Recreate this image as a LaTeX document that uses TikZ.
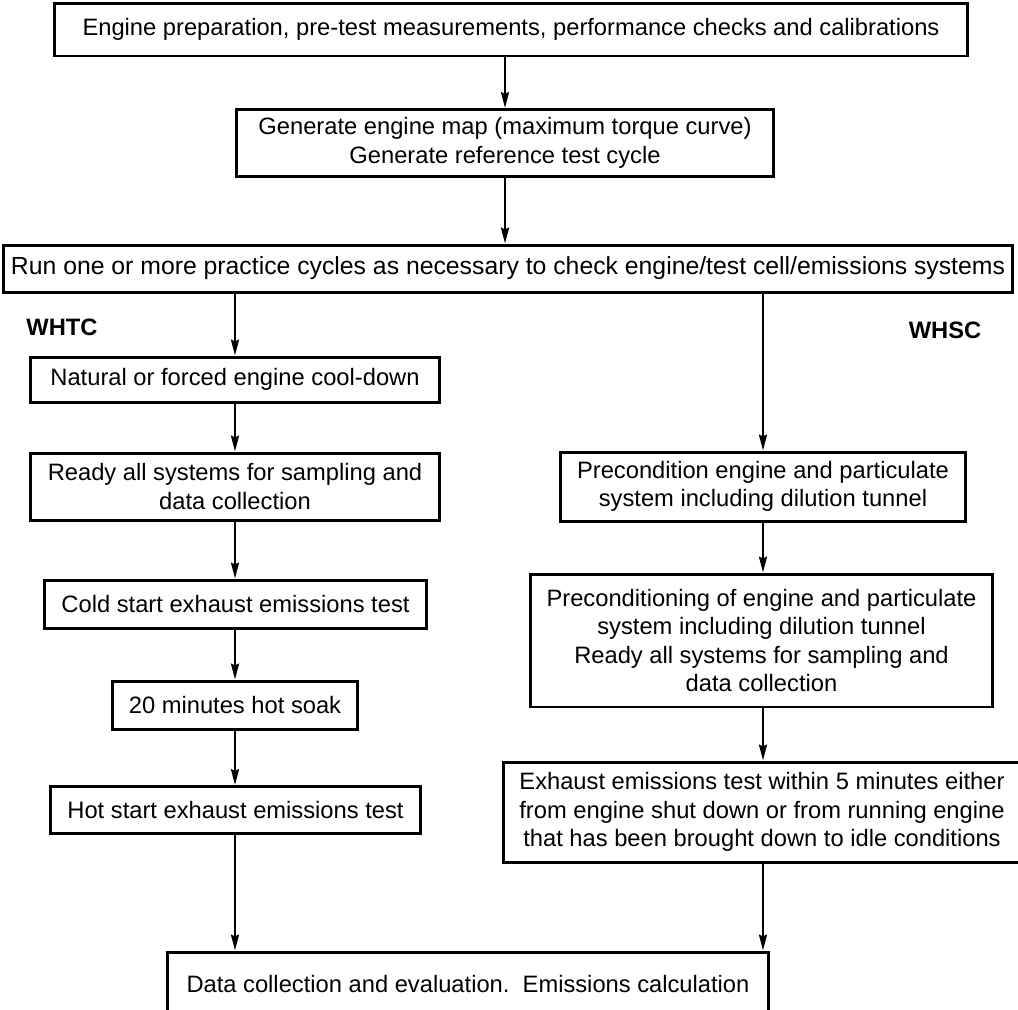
\documentclass[tikz,border=0pt]{standalone}
\usepackage{fontspec}
\setmainfont{Liberation Sans}
\usepackage{tikz}
\usetikzlibrary{arrows.meta,positioning,calc}

\begin{document}
\begin{tikzpicture}[
    x=0.02cm,
    y=-0.02cm,
    font=\fontsize{13.5}{16.2}\selectfont,
    box/.style={draw, line width=1.7pt, align=center, inner sep=2pt},
    arr/.style={line width=1.5pt, -{Stealth[length=9pt,width=4.5pt,inset=1pt]}},
    cyclelbl/.style={font=\fontsize{13.5}{16.2}\selectfont\bfseries}
]
    \clip (0,0) rectangle (1018,1009);

    % Common steps
    \node[box, minimum width=18.26cm, minimum height=1.06cm] (prep) at (511,29.5)
        {Engine preparation, pre-test measurements, performance checks and calibrations};
    \node[box, minimum width=10.74cm, minimum height=1.34cm] (genmap) at (505,143)
        {Generate engine map (maximum torque curve)\\Generate reference test cycle};
    \node[box, minimum width=20.2cm, minimum height=0.94cm, font=\fontsize{14.1}{16.2}\selectfont] (practice) at (508,268.5)
        {Run one or more practice cycles as necessary to check engine/test cell/emissions systems};

    % WHTC
    \node[cyclelbl] (whtc) at (62,327) {WHTC};
    \node[box, minimum width=8.2cm, minimum height=0.9cm] (cooldown) at (235,379.5)
        {Natural or forced engine cool-down};
    \node[box, minimum width=8.2cm, minimum height=1.34cm] (readyL) at (235,486.5)
        {Ready all systems for sampling and\\data collection};
    \node[box, minimum width=7.66cm, minimum height=0.96cm] (coldtest) at (235.5,604)
        {Cold start exhaust emissions test};
    \node[box, minimum width=4.92cm, minimum height=0.96cm] (hotsoak) at (235,705)
        {20 minutes hot soak};
    \node[box, minimum width=7.42cm, minimum height=0.94cm] (hottest) at (235.5,810)
        {Hot start exhaust emissions test};

    % WHSC
    \node[cyclelbl] (whsc) at (945,330) {WHSC};
    \node[box, minimum width=8.12cm, minimum height=1.38cm] (precond) at (763,486.5)
        {Precondition engine and particulate\\system including dilution tunnel};
    \node[box, minimum width=9.26cm, minimum height=2.66cm] (precondready) at (761.5,640.5)
        {Preconditioning of engine and particulate\\system including dilution tunnel\\Ready all systems for sampling and\\data collection};
    \node[box, minimum width=10.36cm, minimum height=2.0cm] (exhtest) at (762,812)
        {Exhaust emissions test within 5 minutes either\\from engine shut down or from running engine\\that has been brought down to idle conditions};

    % Evaluation
    \node[box, minimum width=12.04cm, minimum height=1.28cm] (datacalc) at (468,984)
        {Data collection and evaluation.\ \ Emissions calculation};

    % Arrows
    \draw[arr] (prep.south -| genmap) -- (genmap.north);
    \draw[arr] (genmap.south) -- (practice.north -| genmap);
    \draw[arr] (practice.south -| cooldown) -- (cooldown.north);
    \draw[arr] (cooldown.south) -- (readyL.north);
    \draw[arr] (readyL.south) -- (coldtest.north -| readyL);
    \draw[arr] (coldtest.south -| hotsoak) -- (hotsoak.north);
    \draw[arr] (hotsoak.south) -- (hottest.north -| hotsoak);
    \draw[arr] (hottest.south -| hotsoak) -- (datacalc.north -| hotsoak);
    \draw[arr] (practice.south -| precond) -- (precond.north);
    \draw[arr] (precond.south) -- (precondready.north -| precond);
    \draw[arr] (precondready.south -| precond) -- (exhtest.north -| precond);
    \draw[arr] (exhtest.south -| precond) -- (datacalc.north -| precond);
\end{tikzpicture}
\end{document}
